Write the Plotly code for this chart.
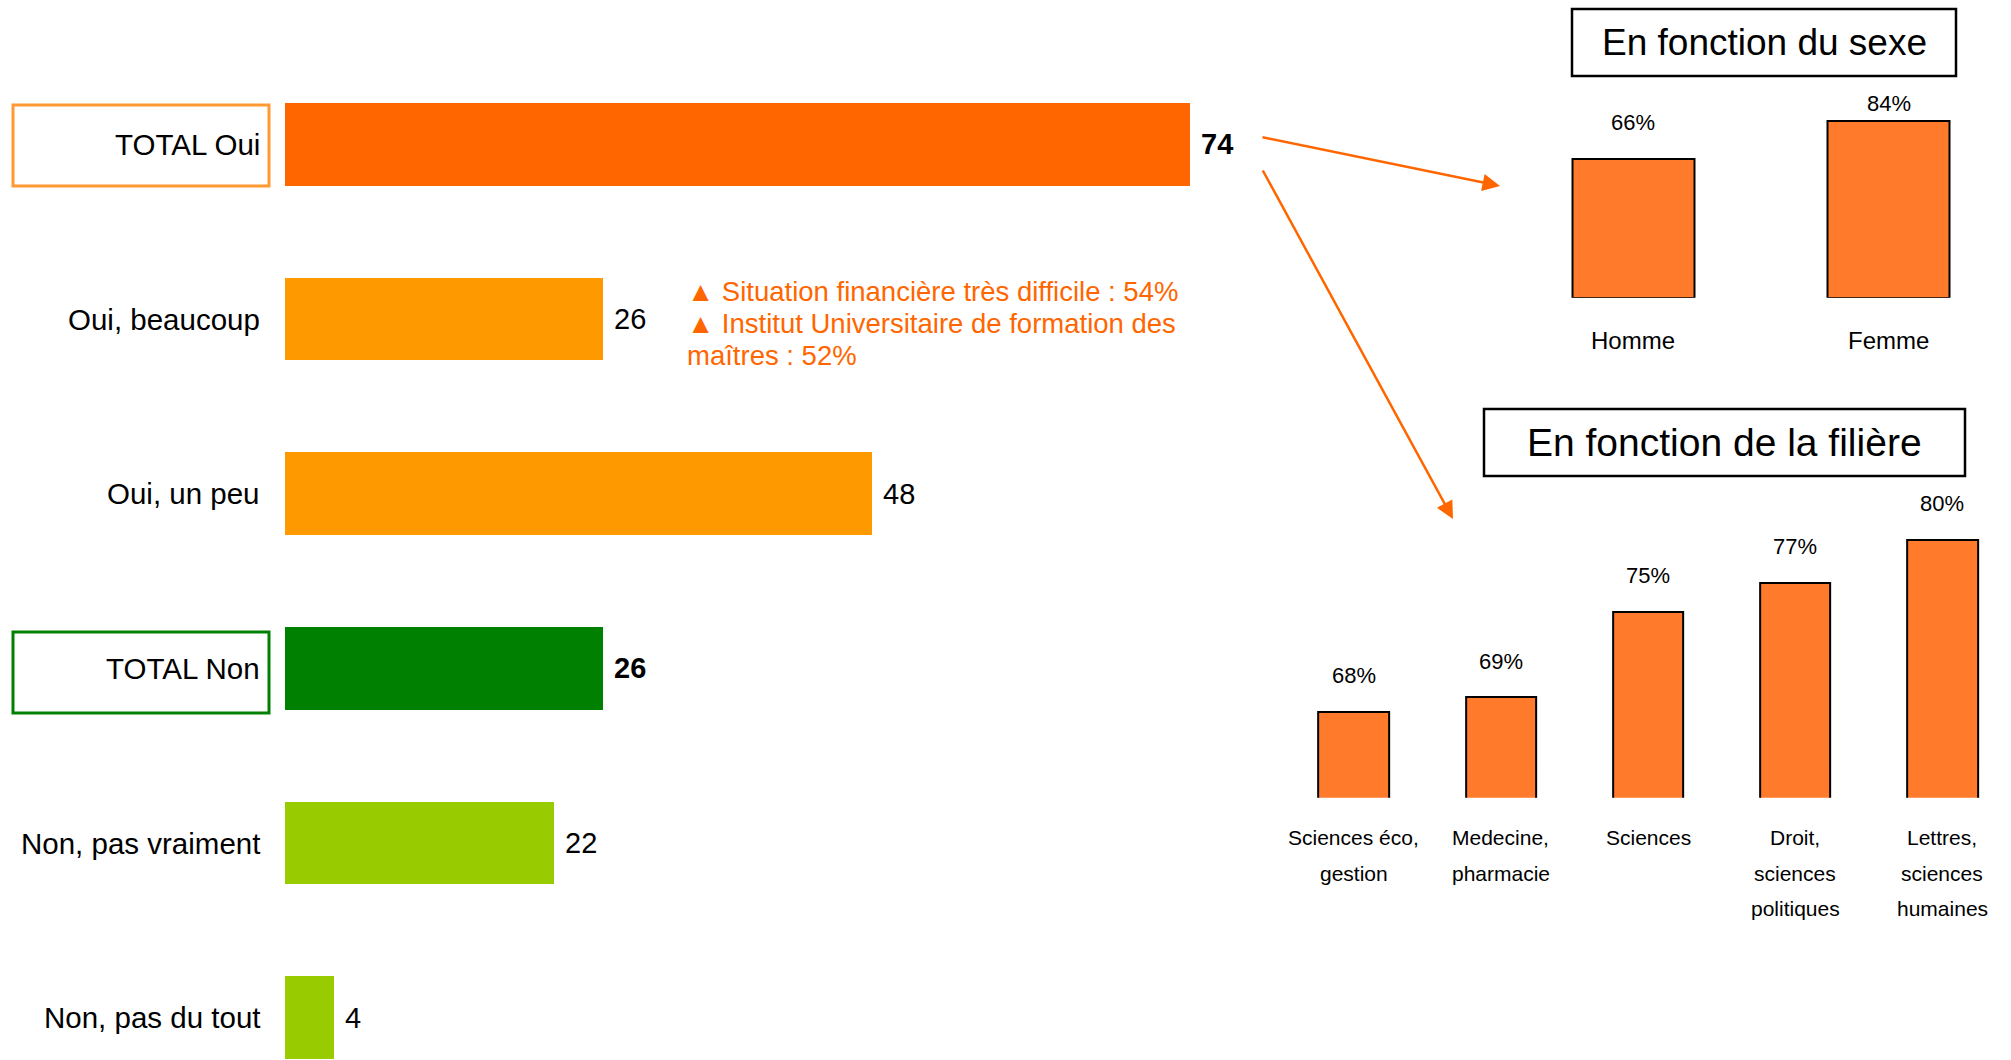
import plotly.graph_objects as go

W, H = 2011, 1060

# ---------------- data ----------------
main_categories = ["TOTAL Oui", "Oui, beaucoup", "Oui, un peu", "TOTAL Non",
                   "Non, pas vraiment", "Non, pas du tout"]
main_values = [74, 26, 48, 26, 22, 4]
main_colors = ["#FF6600", "#FF9900", "#FF9900", "#008000", "#99CC00", "#99CC00"]
main_is_total = [True, False, False, True, False, False]

note_lines = ["▲ Situation financière très difficile : 54%",
              "▲ Institut Universitaire de formation des",
              "maîtres : 52%"]

sexe_title = "En fonction du sexe"
sexe_categories = ["Homme", "Femme"]
sexe_values = [66, 84]

filiere_title = "En fonction de la filière"
filiere_categories = ["Sciences éco,\ngestion", "Medecine,\npharmacie", "Sciences",
                      "Droit,\nsciences\npolitiques", "Lettres,\nsciences\nhumaines"]
filiere_values = [68, 69, 75, 77, 80]

# ---------------- helpers ----------------
FONT = "Liberation Sans, Arial, sans-serif"
ORANGE = "#FF6600"
BAR_FILL = "#FF7A2B"


def fx(p):
    return p / W


def fy(p):
    return 1 - p / H


fig = go.Figure()

# Left horizontal bar chart
fig.add_trace(go.Bar(
    orientation="h", y=main_categories, x=main_values,
    marker=dict(color=main_colors, line=dict(width=0)),
    width=0.473, xaxis="x", yaxis="y", hoverinfo="skip",
))

# Sex chart
fig.add_trace(go.Bar(
    x=sexe_categories, y=sexe_values, width=0.479,
    marker=dict(color=BAR_FILL, line=dict(color="black", width=2)),
    xaxis="x2", yaxis="y2", hoverinfo="skip",
))

# Filiere chart
fig.add_trace(go.Bar(
    x=filiere_categories, y=filiere_values, width=0.479,
    marker=dict(color=BAR_FILL, line=dict(color="black", width=2)),
    xaxis="x3", yaxis="y3", hoverinfo="skip",
))

annotations = []

# left labels and values
for cat, val, tot in zip(main_categories, main_values, main_is_total):
    annotations.append(dict(
        x=0, y=cat, xref="x", yref="y", xanchor="right", yanchor="middle",
        xshift=-23, text=cat, showarrow=False,
        font=dict(size=29.5, color="black", family=FONT)))
    annotations.append(dict(
        x=val, y=cat, xref="x", yref="y", xanchor="left", yanchor="middle",
        xshift=9, text=(f"<b>{val}</b>" if tot else str(val)), showarrow=False,
        font=dict(size=29, color="black", family=FONT)))

# orange note
note_y = [292, 324, 355]
for line, yp in zip(note_lines, note_y):
    annotations.append(dict(
        x=fx(685), y=fy(yp), xref="paper", yref="paper", xanchor="left",
        yanchor="middle", text=line, showarrow=False,
        font=dict(size=27.5, color=ORANGE, family=FONT)))

# arrows
annotations.append(dict(
    x=fx(1500), y=fy(186), xref="paper", yref="paper", ax=1261 - 1500, ay=137 - 186,
    axref="pixel", ayref="pixel", text="", showarrow=True, arrowhead=2,
    arrowsize=1.4, arrowwidth=2.5, arrowcolor=ORANGE))
annotations.append(dict(
    x=fx(1453), y=fy(519), xref="paper", yref="paper", ax=1262 - 1453, ay=169 - 519,
    axref="pixel", ayref="pixel", text="", showarrow=True, arrowhead=2,
    arrowsize=1.4, arrowwidth=2.5, arrowcolor=ORANGE))

# titles
annotations.append(dict(
    x=fx(1764), y=fy(42.5), xref="paper", yref="paper", xanchor="center",
    yanchor="middle", text=sexe_title, showarrow=False,
    font=dict(size=37, color="black", family=FONT)))
annotations.append(dict(
    x=fx(1724.5), y=fy(442.5), xref="paper", yref="paper", xanchor="center",
    yanchor="middle", text=filiere_title, showarrow=False,
    font=dict(size=39, color="black", family=FONT)))

# sex values & categories (labels kept below the title box)
SEXE_BASE_PX, SEXE_SCALE = 297.7, 2.105
LABEL_MIN_PX = 104
for cat, val in zip(sexe_categories, sexe_values):
    top_px = SEXE_BASE_PX - val * SEXE_SCALE
    shift = min(36, top_px - LABEL_MIN_PX)
    annotations.append(dict(
        x=cat, y=val, xref="x2", yref="y2", yanchor="middle", yshift=shift,
        text=f"{val}%", showarrow=False,
        font=dict(size=22, color="black", family=FONT)))
    annotations.append(dict(
        x=cat, y=0, xref="x2", yref="y2", yanchor="middle", yshift=-43,
        text=cat, showarrow=False,
        font=dict(size=24, color="black", family=FONT)))

# filiere values & categories
for cat, val in zip(filiere_categories, filiere_values):
    annotations.append(dict(
        x=cat, y=val, xref="x3", yref="y3", yanchor="middle", yshift=36,
        text=f"{val}%", showarrow=False,
        font=dict(size=22, color="black", family=FONT)))
    for i, part in enumerate(cat.split("\n")):
        annotations.append(dict(
            x=cat, y=62, xref="x3", yref="y3", yanchor="middle",
            yshift=-(40 + 35.3 * i), text=part, showarrow=False,
            font=dict(size=21, color="black", family=FONT)))

shapes = [
    dict(type="rect", xref="paper", yref="paper", x0=fx(13), x1=fx(269),
         y0=fy(186), y1=fy(105), line=dict(color="#FF9933", width=3)),
    dict(type="rect", xref="paper", yref="paper", x0=fx(13), x1=fx(269),
         y0=fy(713), y1=fy(632), line=dict(color="#008000", width=3)),
    dict(type="rect", xref="paper", yref="paper", x0=fx(1572), x1=fx(1956),
         y0=fy(76), y1=fy(9), line=dict(color="black", width=2.5)),
    dict(type="rect", xref="paper", yref="paper", x0=fx(1484), x1=fx(1965),
         y0=fy(476), y1=fy(409), line=dict(color="black", width=2.5)),
]

hidden = dict(showgrid=False, zeroline=False, showline=False, showticklabels=False,
              ticks="", fixedrange=True)

x_scale = 12.223  # px per unit
y_step = 174.7
fig.update_layout(
    width=W, height=H,
    margin=dict(l=0, r=0, t=0, b=0),
    paper_bgcolor="white", plot_bgcolor="white",
    showlegend=False,
    font=dict(family=FONT),
    xaxis=dict(domain=[fx(285), fx(1250)], range=[0, (1250 - 285) / x_scale],
               anchor="y", **hidden),
    yaxis=dict(domain=[0, 1], type="category", categoryorder="array",
               categoryarray=main_categories,
               range=[5 + (H - (144.3 + 5 * y_step)) / y_step, -144.3 / y_step],
               anchor="x", **hidden),
    xaxis2=dict(domain=[fx(1505.5), 1], range=[-0.5, -0.5 + (W - 1505.5) / 255.5],
                anchor="y2", **hidden),
    yaxis2=dict(domain=[fy(SEXE_BASE_PX), fy(90)],
                range=[0, (SEXE_BASE_PX - 90) / SEXE_SCALE],
                anchor="x2", **hidden),
    xaxis3=dict(domain=[fx(1280.15), 1], range=[-0.5, -0.5 + (W - 1280.15) / 147.17],
                anchor="y3", **hidden),
    yaxis3=dict(domain=[fy(797.7), fy(480)], range=[62, 62 + (797.7 - 480) / 14.32],
                anchor="x3", **hidden),
    annotations=annotations,
    shapes=shapes,
    bargap=0,
)

fig.write_html("out.html", config={"displayModeBar": False},
               post_script="document.body.style.margin='0';")
